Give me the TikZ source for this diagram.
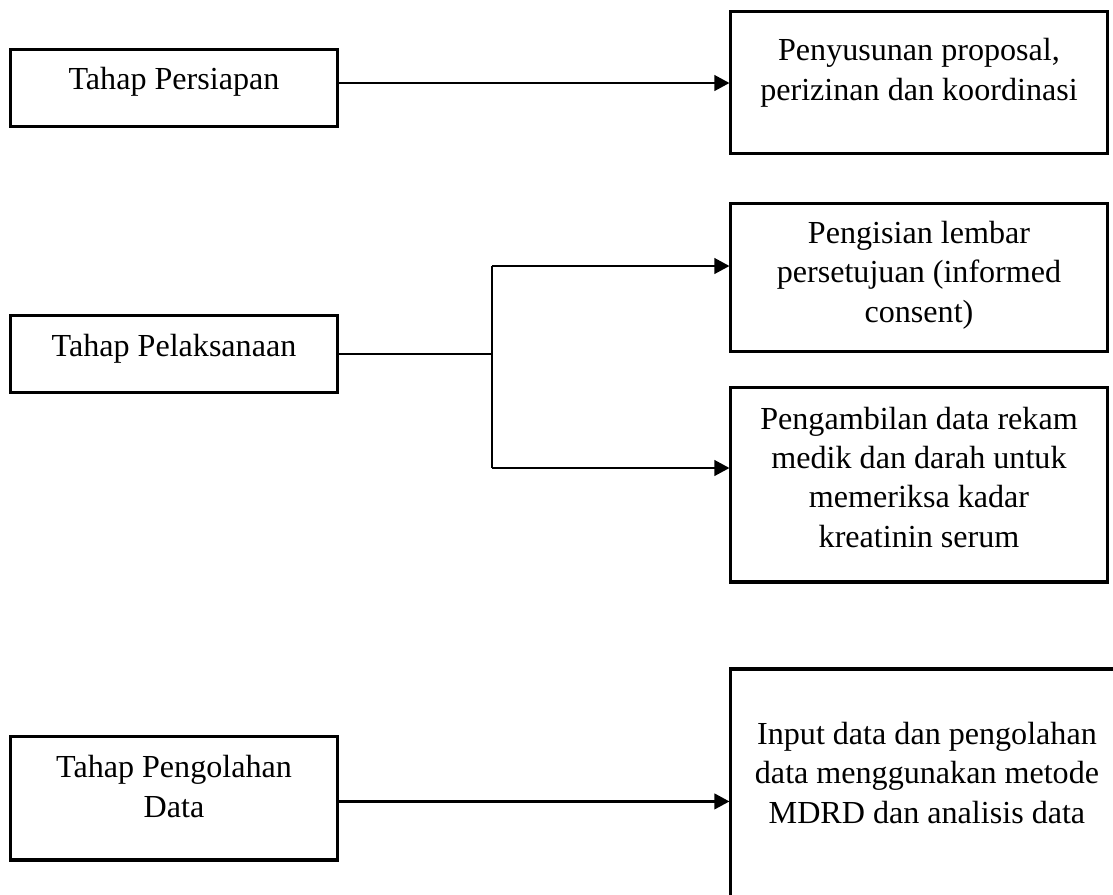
\documentclass[tikz,border=0pt]{standalone}
\usepackage{fontspec}
\setmainfont{Liberation Serif}
\usepackage{tikz}
\usetikzlibrary{positioning, calc, arrows.meta}
\tikzset{
	stagebox/.style={draw=black, line width=1.15pt, inner sep=0pt}
}
\tikzset{
	boxtext/.style={align=center, anchor=base, inner sep=0pt, font=\fontsize{12.2}{14.9}\selectfont}
}
\tikzset{
	arrowline/.style={line width=0.9pt, -{Triangle[length=5.7pt,width=5.9pt]}}
}
\tikzset{
	thinline/.style={line width=0.55pt}
}

\begin{document}
\begin{tikzpicture}[x=0.38pt, y=-0.38pt]
\useasboundingbox (0,0) rectangle (1113,894);
\clip (0,0) rectangle (1113,894);

% boxes, left column
\node[stagebox, minimum width=124.6pt, minimum height=29.6pt] (persiapan) at (174,88) {};
\node[stagebox, minimum width=124.6pt, minimum height=29.6pt] (pelaksanaan) at (174,354) {};
\node[stagebox, minimum width=124.6pt, minimum height=47.1pt] (pengolahan) at (174,798) {};

% boxes, right column
\node[stagebox, minimum width=142.9pt, minimum height=54.3pt] (proposal) at (919,82.5) {};
\node[stagebox, minimum width=142.9pt, minimum height=56.6pt] (consent) at (919,277.5) {};
\node[stagebox, minimum width=142.9pt, minimum height=74.1pt] (rekam) at (919,484.5) {};
\node[stagebox, minimum width=149pt, minimum height=87.8pt] (mdrd) at (927,784.5) {};

% texts (base = last line)
\node[boxtext] (tpersiapan) at (174,89) {Tahap Persiapan};
\node[boxtext] (tpelaksanaan) at (174,356) {Tahap Pelaksanaan};
\node[boxtext] (tpengolahan) at (174,817) {Tahap Pengolahan\\Data};
\node[boxtext] (tproposal) at (919,100) {Penyusunan proposal,\\perizinan dan koordinasi};
\node[boxtext] (tconsent) at (919,322) {Pengisian lembar\\persetujuan (informed\\consent)};
\node[boxtext] (trekam) at (919,547) {Pengambilan data rekam\\medik dan darah untuk\\memeriksa kadar\\kreatinin serum};
\node[boxtext] (tmdrd) at (927,823) {Input data dan pengolahan\\data menggunakan metode\\MDRD dan analisis data};

% connectors
\coordinate (outA) at ([yshift=1.9pt]persiapan.east);
\draw[arrowline] (outA) -- (outA -| proposal.west);

\coordinate (forkD) at (492,266);
\coordinate (forkE) at (492,468);
\draw[thinline] (pelaksanaan.east) -- (pelaksanaan.east -| forkD);
\draw[thinline] (forkD) -- (forkE);
\draw[arrowline] (forkD) -- (forkD -| consent.west);
\draw[arrowline] (forkE) -- (forkE -| rekam.west);

\coordinate (outF) at ([yshift=-1.3pt]pengolahan.east);
\draw[arrowline] (outF) -- (outF -| mdrd.west);

\end{tikzpicture}
\end{document}
